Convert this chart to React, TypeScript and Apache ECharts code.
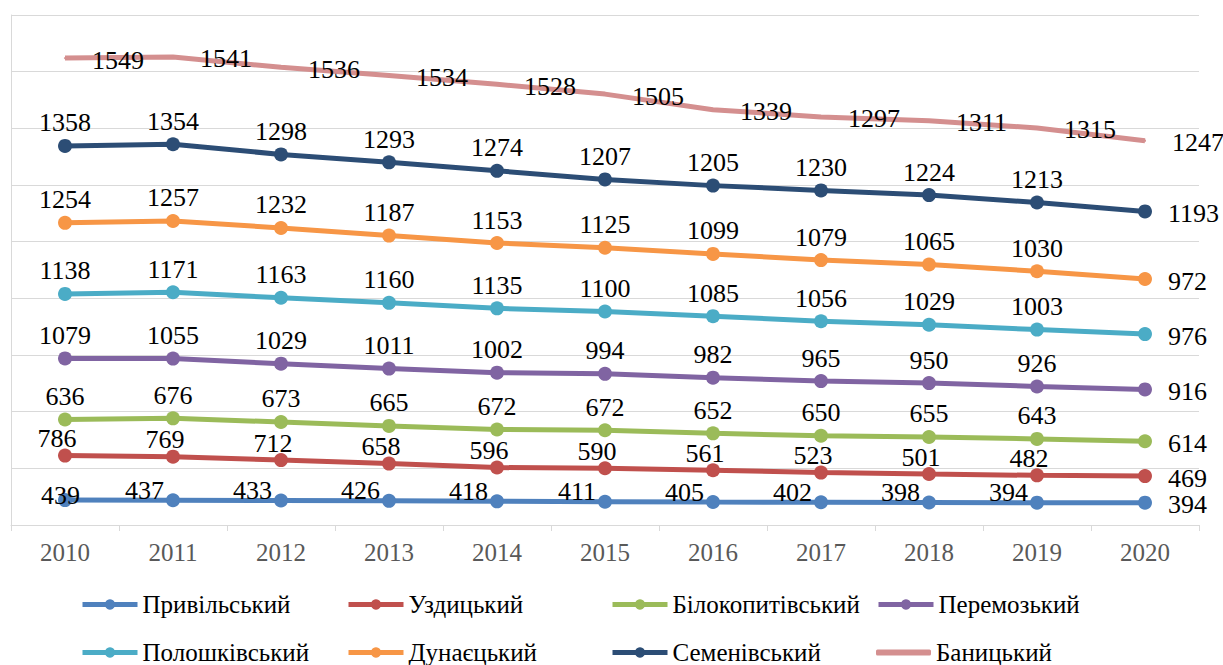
import React, { useEffect, useRef } from "react";
import * as echarts from "echarts";

const years = ["2010", "2011", "2012", "2013", "2014", "2015", "2016", "2017", "2018", "2019", "2020"];

const seriesNames = [
  "Привільський",
  "Уздицький",
  "Білокопитівський",
  "Перемозький",
  "Полошківський",
  "Дунаєцький",
  "Семенівський",
  "Баницький",
];

const pryvilskyi = [439, 437, 433, 426, 418, 411, 405, 402, 398, 394, 394];
const uzdytskyi = [786, 769, 712, 658, 596, 590, 561, 523, 501, 482, 469];
const bilokopytivskyi = [636, 676, 673, 665, 672, 672, 652, 650, 655, 643, 614];
const peremozkyi = [1079, 1055, 1029, 1011, 1002, 994, 982, 965, 950, 926, 916];
const poloshkivskyi = [1138, 1171, 1163, 1160, 1135, 1100, 1085, 1056, 1029, 1003, 976];
const dunaietskyi = [1254, 1257, 1232, 1187, 1153, 1125, 1099, 1079, 1065, 1030, 972];
const semenivskyi = [1358, 1354, 1298, 1293, 1274, 1207, 1205, 1230, 1224, 1213, 1193];
const banytskyi = [1549, 1541, 1536, 1534, 1528, 1505, 1339, 1297, 1311, 1315, 1247];

const allValues = [
  pryvilskyi,
  uzdytskyi,
  bilokopytivskyi,
  peremozkyi,
  poloshkivskyi,
  dunaietskyi,
  semenivskyi,
  banytskyi,
];

const colors = ["#4F81BD", "#C0504D", "#9BBB59", "#8064A2", "#4BACC6", "#F79646", "#2C4D75", "#D48F8F"];

const FONT = "Liberation Serif";

// legend placement (left, top) per series
const legendPos: [number, number][] = [
  [80, 592],
  [346, 592],
  [610, 592],
  [876, 592],
  [80, 640],
  [346, 640],
  [610, 640],
  [876, 640],
];

export default function App() {
  const ref = useRef<HTMLDivElement>(null);

  useEffect(() => {
    if (!ref.current) return;
    const chart = echarts.init(ref.current, null, { renderer: "svg" });

    const baseLabel = {
      show: true,
      color: "#000",
      fontFamily: FONT,
      fontSize: 26,
    };

    const series = allValues.map((vals, si) => {
      const isLast = si === 7;
      let label: any = { ...baseLabel, position: "top", distance: 3 };
      if (si === 0) label = { ...baseLabel, position: "left", distance: 2, offset: [0, -10] };
      if (si === 1) label = { ...baseLabel, position: "top", distance: 0, offset: [-8, 3] };
      if (isLast) label = { ...baseLabel, position: "right", distance: 26, offset: [0, 2] };
      const data = vals.map((v, i) => {
        if (i === vals.length - 1 && !isLast) {
          return { value: v, label: { position: "right", distance: 16, offset: [0, 2] } };
        }
        if (si === 0 && i === 0) {
          return { value: v, label: { position: "left", offset: [24, -5] } };
        }
        return v;
      });
      return {
        name: seriesNames[si],
        type: "line",
        stack: "total",
        data,
        symbol: "circle",
        symbolSize: isLast ? 2 : 14,
        showSymbol: true,
        lineStyle: { width: 5, color: colors[si] },
        itemStyle: { color: colors[si] },
        label,
        emphasis: { disabled: true },
        z: 2 + si,
      };
    });

    const legends = seriesNames.map((name, i) => ({
      data: [i === 7 ? { name, icon: "roundRect" } : { name }],
      left: legendPos[i][0],
      top: legendPos[i][1],
      padding: 0,
      itemWidth: 55,
      itemHeight: i === 7 ? 6 : 13,
      lineStyle: { width: 5 },
      textStyle: { color: "#000", fontFamily: FONT, fontSize: 25 },
      selectedMode: false,
    }));

    chart.setOption({
      animation: false,
      color: colors,
      grid: { left: 11, right: 24, top: 15, bottom: 140, containLabel: false },
      legend: legends,
      xAxis: {
        type: "category",
        data: years,
        boundaryGap: true,
        axisLine: { show: true, lineStyle: { color: "#D9D9D9", width: 1 } },
        axisTick: { show: true, length: 6, lineStyle: { color: "#D9D9D9" } },
        axisLabel: { color: "#595959", fontFamily: FONT, fontSize: 25, margin: 15 },
      },
      yAxis: {
        type: "value",
        min: 0,
        max: 9000,
        interval: 1000,
        axisLabel: { show: false },
        axisTick: { show: false },
        axisLine: { show: true, lineStyle: { color: "#D9D9D9", width: 1 } },
        splitLine: { show: true, lineStyle: { color: "#D9D9D9", width: 1 } },
      },
      series,
    });

    return () => chart.dispose();
  }, []);

  return (
    <div
      ref={ref}
      style={{ position: "fixed", left: 0, top: 0, width: 1223, height: 665, background: "#fff" }}
    />
  );
}
